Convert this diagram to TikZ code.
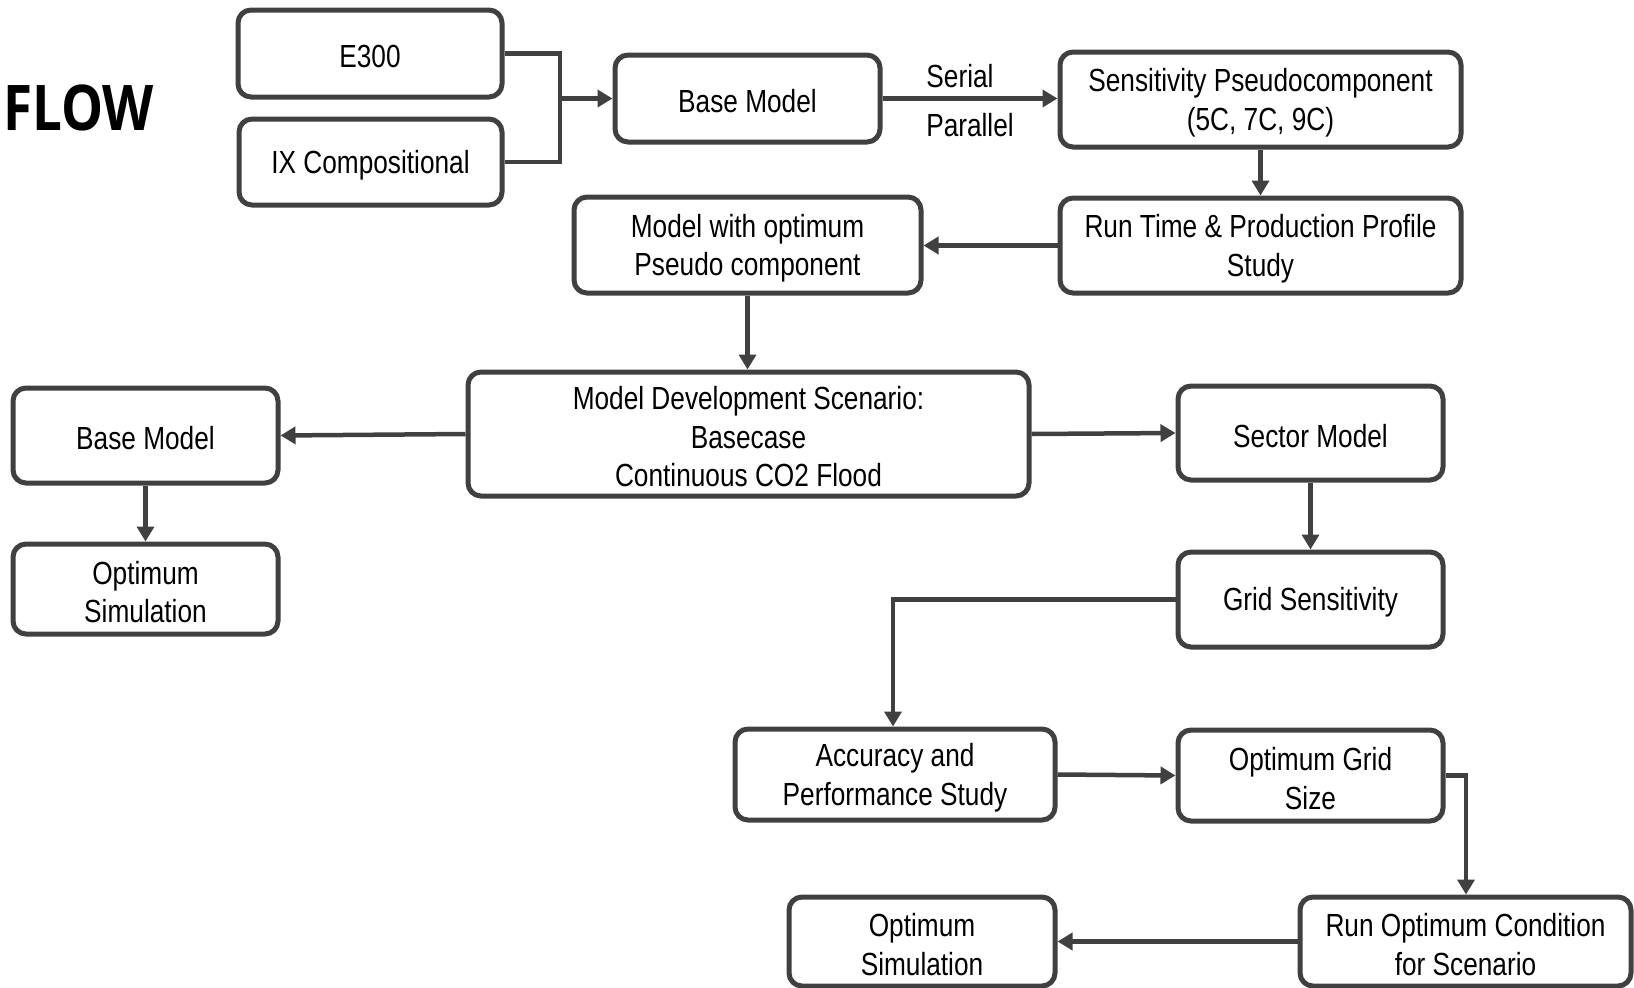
\documentclass[tikz,border=0pt]{standalone}
\usepackage{fontspec}
\setmainfont{Liberation Sans}[FakeStretch=0.82]
\newfontfamily\flowfont{Open Sans}[FakeStretch=0.84]
\usetikzlibrary{arrows.meta}
\definecolor{ln}{HTML}{404040}
\tikzset{
  box/.style={draw=ln, line width=5pt, rounded corners=13pt, fill=white, inner sep=0pt},
  boxtext/.style={align=center, font=\fontsize{32}{38.5}\selectfont, text=black, inner sep=0pt},
  conn/.style={draw=ln, line width=4.5pt},
  arr/.style={conn, -{Triangle[length=15pt,width=17pt]}},
  lbl/.style={font=\fontsize{32}{38.5}\selectfont, text=black, inner sep=0pt}
}
\newcommand{\bx}[6]{% name, x1,y1,x2,y2, text
  \node[box, minimum width={(#4-#2)*1pt}, minimum height={(#5-#3)*1pt}] (#1) at ({(#2+#4)/2},{(#3+#5)/2}) {};
  \node[boxtext] (#1-t) at ([yshift=-3pt]#1.center) {#6};}
\begin{document}
\begin{tikzpicture}[x=1pt,y=-1pt]
\useasboundingbox (0,0) rectangle (1634,988);
\node[anchor=base west, inner sep=0pt, text=black, font=\flowfont\bfseries\fontsize{63}{70}\selectfont] (flow) at (3,130) {FLOW};
\bx{e300}{238}{10}{502}{97}{E300}
\bx{ix}{239}{119}{502}{205}{IX Compositional}
\bx{base}{615}{55}{880}{142}{Base Model}
\bx{sens}{1060}{52}{1461}{147}{Sensitivity Pseudocomponent\\(5C, 7C, 9C)}
\bx{run}{1060}{198}{1461}{293}{Run Time \& Production Profile\\Study}
\bx{mopt}{574}{197}{921}{293}{Model with optimum\\Pseudo component}
\bx{mdev}{468}{372}{1029}{496}{Model Development Scenario:\\Basecase\\Continuous CO2 Flood}
\bx{basel}{13}{388}{278}{483}{Base Model}
\bx{optl}{13}{544}{278}{634}{Optimum\\Simulation}
\bx{sector}{1178}{386}{1443}{480}{Sector Model}
\bx{grid}{1178}{552}{1443}{647}{Grid Sensitivity}
\bx{acc}{735}{729}{1055}{820}{Accuracy and\\Performance Study}
\bx{ogrid}{1178}{730}{1443}{821}{Optimum Grid\\Size}
\bx{runopt}{1300}{897}{1631}{986}{Run Optimum Condition\\for Scenario}
\bx{optb}{789}{897}{1055}{986}{Optimum\\Simulation}
\node[lbl] (serial) at (960,76) {Serial};
\node[lbl] (parallel) at (970,125) {Parallel};
\coordinate (j) at (560,98.5);
\draw[conn] (e300.east) -| (j);
\draw[conn] (ix.east) -| (j);
\draw[arr] (j) -- (base.west);
\draw[arr] (base.east) -- (sens.west |- base.east);
\draw[arr] (sens.south) -- (run.north);
\draw[arr] (run.west) -- (mopt.east |- run.west);
\draw[arr] (mopt.south) -- (mopt.south |- mdev.north);
\draw[arr] (mdev.west) -- (basel.east);
\draw[arr] (basel.south) -- (optl.north);
\draw[arr] (mdev.east) -- (sector.west);
\draw[arr] (sector.south) -- (grid.north);
\coordinate (ga) at (893,599.5);
\draw[arr] (grid.west) -- (ga) -- (ga |- acc.north);
\draw[arr] (acc.east) -- (ogrid.west);
\coordinate (gr) at (1466,775.5);
\draw[arr] (ogrid.east) -- (gr) -- (gr |- runopt.north);
\draw[arr] (runopt.west) -- (optb.east);
\end{tikzpicture}
\end{document}
